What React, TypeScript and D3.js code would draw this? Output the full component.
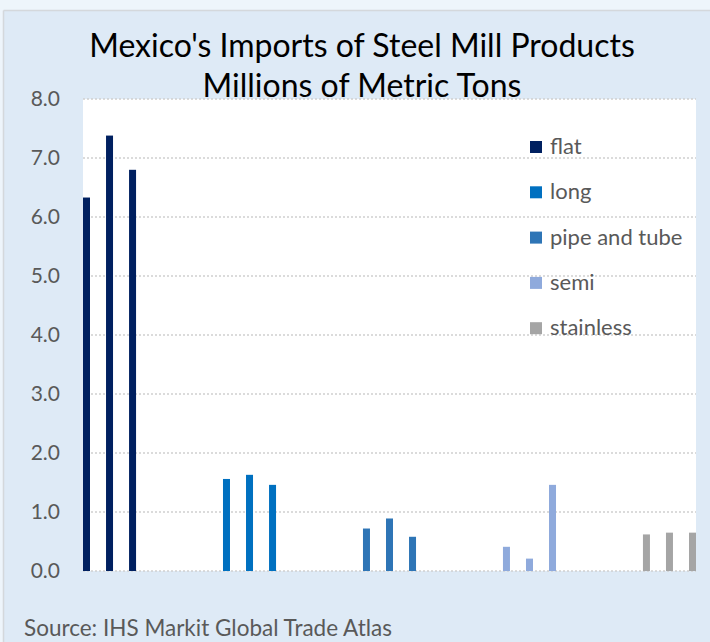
import React from "react";
import * as d3 from "d3";

const categories = ["flat", "long", "pipe and tube", "semi", "stainless"];
const series = ["Series 1", "Series 2", "Series 3"];
const values: number[][] = [
  [6.33, 7.38, 6.8],
  [1.56, 1.63, 1.46],
  [0.72, 0.89, 0.58],
  [0.41, 0.21, 1.46],
  [0.62, 0.65, 0.65],
];
const colors = ["#002060", "#0070c0", "#2e75b6", "#8faadc", "#a5a5a5"];
const yTicks = [0, 1, 2, 3, 4, 5, 6, 7, 8];
const titleLines = ["Mexico's Imports of Steel Mill Products", "Millions of Metric Tons"];
const sourceText = "Source: IHS Markit Global Trade Atlas";

const W = 710;
const H = 642;
const plot = { left: 83, right: 696, top: 99, bottom: 571 };
const FONT = "Lato, 'Open Sans', sans-serif";

export default function App() {
  const y = d3.scaleLinear().domain([0, 8]).range([plot.bottom, plot.top]);
  const x0 = d3
    .scaleBand<string>()
    .domain(categories)
    .range([plot.left, plot.right])
    .paddingInner(0.621)
    .paddingOuter(0);
  const x1 = d3
    .scaleBand<string>()
    .domain(series)
    .range([0, x0.bandwidth()])
    .paddingInner(0.696)
    .paddingOuter(0);

  return (
    <svg
      width={W}
      height={H}
      style={{ position: "absolute", left: 0, top: 0 }}
      xmlns="http://www.w3.org/2000/svg"
    >
      <rect x={0} y={0} width={W} height={H} fill="#eef5fb" />
      <rect x={4} y={11} width={W} height={H} fill="#deeaf6" />
      <line x1={3.5} y1={10.5} x2={3.5} y2={H} stroke="#d4d8dc" strokeWidth={1.5} />
      <line x1={3.5} y1={10.5} x2={W} y2={10.5} stroke="#d4d8dc" strokeWidth={1.5} />

      {titleLines.map((t, i) => (
        <text
          key={i}
          x={362}
          y={57 + i * 40}
          textAnchor="middle"
          fontFamily={FONT}
          fontSize={32}
          fill="#000"
        >
          {t}
        </text>
      ))}

      <rect
        x={plot.left}
        y={plot.top}
        width={plot.right - plot.left}
        height={plot.bottom - plot.top}
        fill="#ffffff"
      />

      {yTicks.map((t) => (
        <g key={t}>
          <line
            x1={plot.left}
            x2={plot.right}
            y1={y(t)}
            y2={y(t)}
            stroke="#d0d0d0"
            strokeWidth={1.3}
            strokeDasharray="2,2"
          />
          <text
            x={60}
            y={y(t) + 7}
            textAnchor="end"
            fontFamily={FONT}
            fontSize={21}
            fill="#595959"
          >
            {t.toFixed(1)}
          </text>
        </g>
      ))}

      {categories.map((c, ci) => (
        <g key={c}>
          {series.map((s, si) => (
            <rect
              key={s}
              x={(x0(c) as number) + (x1(s) as number)}
              y={y(values[ci][si])}
              width={x1.bandwidth()}
              height={y(0) - y(values[ci][si])}
              fill={colors[ci]}
            />
          ))}
        </g>
      ))}

      {categories.map((c, i) => (
        <g key={c} transform={`translate(530, ${147 + i * 45.3})`}>
          <rect x={0} y={-6} width={12} height={12} fill={colors[i]} />
          <text x={20} y={7} fontFamily={FONT} fontSize={22} fill="#595959">
            {c}
          </text>
        </g>
      ))}

      <text x={24} y={636} fontFamily={FONT} fontSize={22.5} fill="#595959">
        {sourceText}
      </text>
    </svg>
  );
}
